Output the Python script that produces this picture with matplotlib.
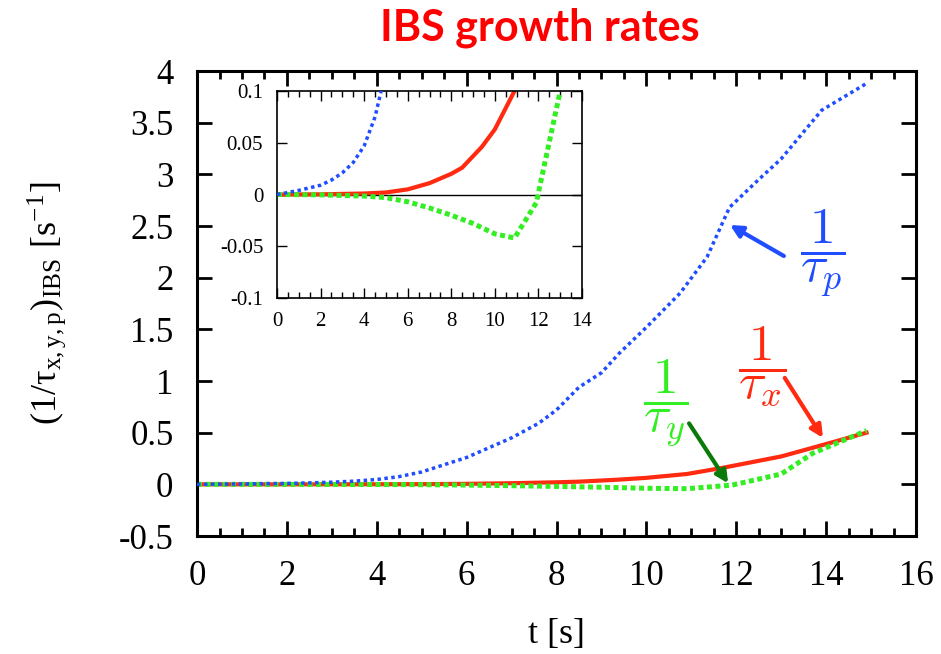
import numpy as np
import matplotlib
matplotlib.use("Agg")
import matplotlib.pyplot as plt
from matplotlib.ticker import MultipleLocator, FuncFormatter

# IBS growth rates vs time
blue_t = [0, 1, 2, 2.5, 3, 3.5, 4, 4.5, 5, 6, 7, 7.6, 8, 8.5, 9, 9.4, 10,
          10.75, 11.35, 11.85, 12.5, 13, 13.9, 14.9]
blue_v = [0, 0.004, 0.009, 0.014, 0.021, 0.031, 0.047, 0.075, 0.12, 0.26, 0.45,
          0.59, 0.72, 0.94, 1.08, 1.27, 1.52, 1.85, 2.2, 2.68, 2.95, 3.15,
          3.62, 3.88]

red_t = [0, 2, 4, 5, 6, 7, 8, 8.5, 9.4, 10, 10.9, 11.7, 13, 14, 14.9]
red_v = [0, 0.0002, 0.001, 0.002, 0.005, 0.011, 0.02, 0.026, 0.046, 0.063,
         0.1, 0.16, 0.27, 0.39, 0.5]

green_t = [0, 2, 4, 5, 6, 7, 8, 9, 10, 10.9, 11.9, 13, 13.7, 14.9]
green_v = [0, -0.0003, -0.0015, -0.003, -0.007, -0.013, -0.02, -0.028,
           -0.038, -0.042, -0.008, 0.1, 0.3, 0.52]

BLUE = "#1f4dff"
RED = "#ff2a10"
GREEN = "#33ee22"
DKGREEN = "#0a7a0a"

plt.rcParams["font.family"] = ["Liberation Serif", "DejaVu Serif"]
plt.rcParams["axes.unicode_minus"] = False
plt.rcParams["mathtext.fontset"] = "stix"

fmt = FuncFormatter(lambda v, p: "%g" % round(v, 6))

fig = plt.figure(figsize=(9.41, 6.54), dpi=100)
ax = fig.add_axes([0.2094, 0.1804, 0.764, 0.711])


def draw_curves(a):
    a.plot(blue_t, blue_v, color=BLUE, lw=2.5, ls=(0, (1, 1)), zorder=3)
    a.plot(red_t, red_v, color=RED, lw=3.0, ls="-", zorder=2)
    a.plot(green_t, green_v, color=GREEN, lw=3.6, ls=(0, (1, 0.7)), zorder=2)


draw_curves(ax)
ax.set_xlim(0, 16)
ax.set_ylim(-0.5, 4)
ax.xaxis.set_major_locator(MultipleLocator(2))
ax.xaxis.set_minor_locator(MultipleLocator(0.5))
ax.yaxis.set_major_locator(MultipleLocator(0.5))
ax.xaxis.set_major_formatter(fmt)
ax.yaxis.set_major_formatter(fmt)
ax.tick_params(which="both", direction="in", top=True, right=True, width=2,
               labelsize=25)
ax.tick_params(axis="x", pad=17)
ax.tick_params(axis="y", pad=17)
ax.tick_params(which="major", length=11)
ax.tick_params(which="minor", length=6)
for s in ax.spines.values():
    s.set_linewidth(2.2)

ax.set_xlabel("t [s]", fontsize=26, labelpad=18)
ax.set_ylabel("(1/τ$_{\\mathregular{x,y,p}}$)$_{\\mathregular{IBS}}$ [s$^{\\mathregular{-1}}$]",
              fontsize=26, labelpad=36)

fig.text(0.574, 0.958, "IBS growth rates", color="#ff0000", fontsize=31,
         fontweight="bold", family="Lato", ha="center", va="center")

# labels with arrows
ax.text(13.93, 2.24, r"$\dfrac{1}{\tau_p}$", color=BLUE, fontsize=37,
        math_fontfamily="cm", ha="center", va="center")
ax.annotate("", xy=(11.86, 2.51), xytext=(13.06, 2.21),
            arrowprops=dict(arrowstyle="-|>", color=BLUE, lw=3, mutation_scale=18,
                            shrinkA=0, shrinkB=0))
ax.text(12.57, 1.14, r"$\dfrac{1}{\tau_x}$", color=RED, fontsize=37,
        math_fontfamily="cm", ha="center", va="center")
ax.annotate("", xy=(13.93, 0.45), xytext=(13.08, 1.03),
            arrowprops=dict(arrowstyle="-|>", color=RED, lw=3, mutation_scale=18,
                            shrinkA=0, shrinkB=0))
ax.text(10.44, 0.78, r"$\dfrac{1}{\tau_y}$", color=GREEN, fontsize=37,
        math_fontfamily="cm", ha="center", va="center")
ax.annotate("", xy=(11.82, 0.01), xytext=(10.95, 0.59),
            arrowprops=dict(arrowstyle="-|>", color=DKGREEN, lw=3, mutation_scale=18,
                            shrinkA=0, shrinkB=0))

# inset zoom near zero
ins = fig.add_axes([0.2944, 0.5443, 0.3241, 0.3165])
ins.axhline(0, color="black", lw=1, zorder=1)
draw_curves(ins)
ins.set_xlim(0, 14)
ins.set_ylim(-0.1, 0.1)
ins.xaxis.set_major_locator(MultipleLocator(2))
ins.xaxis.set_minor_locator(MultipleLocator(0.5))
ins.yaxis.set_major_locator(MultipleLocator(0.05))
ins.xaxis.set_major_formatter(fmt)
ins.yaxis.set_major_formatter(fmt)
ins.tick_params(which="both", direction="in", top=True, right=True, width=1,
                labelsize=15, pad=10)
ins.tick_params(which="major", length=7)
ins.tick_params(which="minor", length=4)
for s in ins.spines.values():
    s.set_linewidth(1.2)

fig.savefig("out.png", dpi=100)
